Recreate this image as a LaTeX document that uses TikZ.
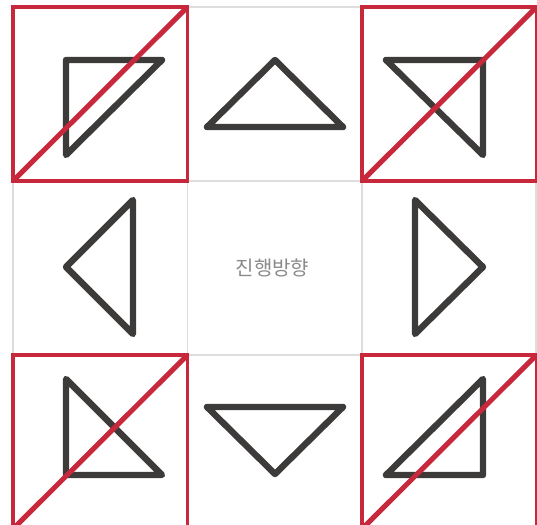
\documentclass[tikz,border=0pt]{standalone}
\usepackage{fontspec}
\newfontfamily\krfont{Noto Sans CJK KR}
\definecolor{gridgray}{HTML}{DDDDDD}
\definecolor{tridark}{HTML}{3D3A3A}
\definecolor{banred}{HTML}{C8283C}
\definecolor{labelgray}{HTML}{8A8A8A}
\begin{document}
\begin{tikzpicture}[x=0.75pt, y=-0.75pt,
		gridline/.style ={draw=gridgray, line width=0.8pt},
		tri/.style ={draw=tridark, line width=4.8pt, line join=round, line cap=round},
		banbox/.style ={draw=banred, line width=2.3pt},
		banline/.style ={draw=banred, line width=3.8pt}]
		\useasboundingbox (0,0) rectangle (537,525);
		\clip (0,0) rectangle (537,525);
		% grid
		\foreach \x in {13,187.5,362,536}
		\draw[gridline] (\x,7) -- (\x,529);
		\foreach \y in {7,181,355,529}
		\draw[gridline] (13,\y) -- (536,\y);
		% triangles
		\draw[tri] (66,60) -- (162,60) -- (66,155) -- cycle;
		\draw[tri] (275,60) -- (343,127) -- (207,127) -- cycle;
		\draw[tri] (386,60) -- (483,60) -- (483,155) -- cycle;
		\draw[tri] (133,200) -- (66,267) -- (133,334) -- cycle;
		\draw[tri] (415,200) -- (483,267) -- (415,334) -- cycle;
		\draw[tri] (66,379) -- (162,475) -- (66,475) -- cycle;
		\draw[tri] (207,407) -- (343,407) -- (275,474) -- cycle;
		\draw[tri] (483,379) -- (483,475) -- (386,475) -- cycle;
		% crossed-out cells
		\foreach \x/\y in {13/7, 362/7, 13/355, 362/355}{
			\draw[banbox] (\x,\y) rectangle ++(174.5,174);
			\draw[banline] (\x,\y+174) -- ++(174.5,-174);
		}
		\node[text=labelgray, font=\krfont\fontsize{15}{18}\selectfont](dirlabel) at (272.5,268) {진행방향};
	\end{tikzpicture}
\end{document}
